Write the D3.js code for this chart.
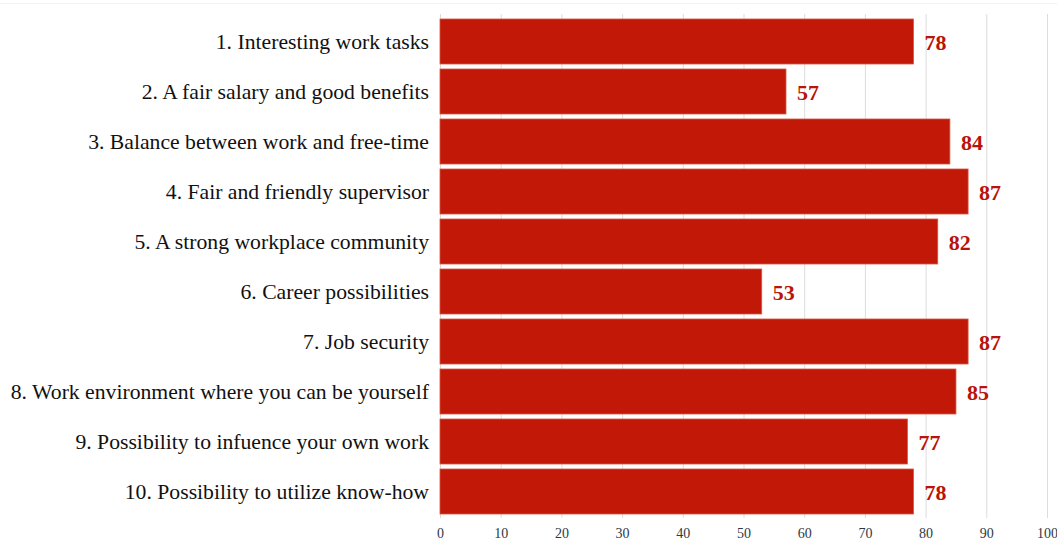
<!DOCTYPE html>
<html>
<head>
<meta charset="utf-8">
<script src="https://cdn.jsdelivr.net/npm/d3@7"></script>
<style>
  body { margin: 0; background: #fff; }
  svg { display: block; }
</style>
</head>
<body>
<div id="chart"></div>
<script>
const width = 1057;
const height = 540;

// categories and scores
const categories = [
  "1. Interesting work tasks",
  "2. A fair salary and good benefits",
  "3. Balance between work and free-time",
  "4. Fair and friendly supervisor",
  "5. A strong workplace community",
  "6. Career possibilities",
  "7. Job security",
  "8. Work environment where you can be yourself",
  "9. Possibility to infuence your own work",
  "10. Possibility to utilize know-how"
];
const scores = [78, 57, 84, 87, 82, 53, 87, 85, 77, 78];
const xTicks = [0, 10, 20, 30, 40, 50, 60, 70, 80, 90, 100];

const rows = categories.map((c, i) => ({ name: c, value: scores[i] }));

const svg = d3.select("#chart").append("svg")
  .attr("width", width)
  .attr("height", height);

const x = d3.scaleLinear()
  .domain([0, 100])
  .range([440, 1047]);

const y = d3.scaleBand()
  .domain(categories)
  .range([16.5, 516.5])
  .paddingInner(0.1)
  .paddingOuter(0.05);

// faint line at the very top
svg.append("line")
  .attr("x1", 0).attr("x2", width)
  .attr("y1", 3.5).attr("y2", 3.5)
  .attr("stroke", "#f2f2f2");

// grid lines
svg.append("g")
  .selectAll("line")
  .data(xTicks)
  .enter()
  .append("line")
  .attr("x1", d => x(d) + 0.5)
  .attr("x2", d => x(d) + 0.5)
  .attr("y1", 14)
  .attr("y2", 518)
  .attr("stroke", "#dcdcdc")
  .attr("stroke-width", 1);

// x axis labels
const xAxis = svg.append("g")
  .attr("transform", "translate(0,538)")
  .call(d3.axisBottom(x).tickValues(xTicks).tickSize(0).tickPadding(0));
xAxis.select(".domain").remove();
xAxis.selectAll("text")
  .attr("y", 0)
  .attr("dy", 0)
  .style("font-family", "'Liberation Serif', 'Times New Roman', serif")
  .style("font-size", "14px")
  .style("fill", "#2f3844");

// bars
svg.append("g")
  .selectAll("rect")
  .data(rows)
  .enter()
  .append("rect")
  .attr("x", x(0))
  .attr("y", d => y(d.name))
  .attr("width", d => x(d.value) - x(0))
  .attr("height", y.bandwidth())
  .attr("fill", "#c21807")
  .attr("stroke", "#d8563f")
  .attr("stroke-width", 0.8);

// category labels
svg.append("g")
  .selectAll("text")
  .data(rows)
  .enter()
  .append("text")
  .attr("x", 429)
  .attr("y", d => y(d.name) + y.bandwidth() / 2 + 7)
  .attr("text-anchor", "end")
  .style("font-family", "'Liberation Serif', 'Times New Roman', serif")
  .style("font-size", "21.7px")
  .style("fill", "#111")
  .text(d => d.name);

// value labels
svg.append("g")
  .selectAll("text")
  .data(rows)
  .enter()
  .append("text")
  .attr("x", d => x(d.value) + 11)
  .attr("y", d => y(d.name) + y.bandwidth() / 2 + 8)
  .style("font-family", "'Liberation Serif', 'Times New Roman', serif")
  .style("font-size", "22px")
  .style("font-weight", "bold")
  .style("fill", "#b8140a")
  .text(d => d.value);
</script>
</body>
</html>
